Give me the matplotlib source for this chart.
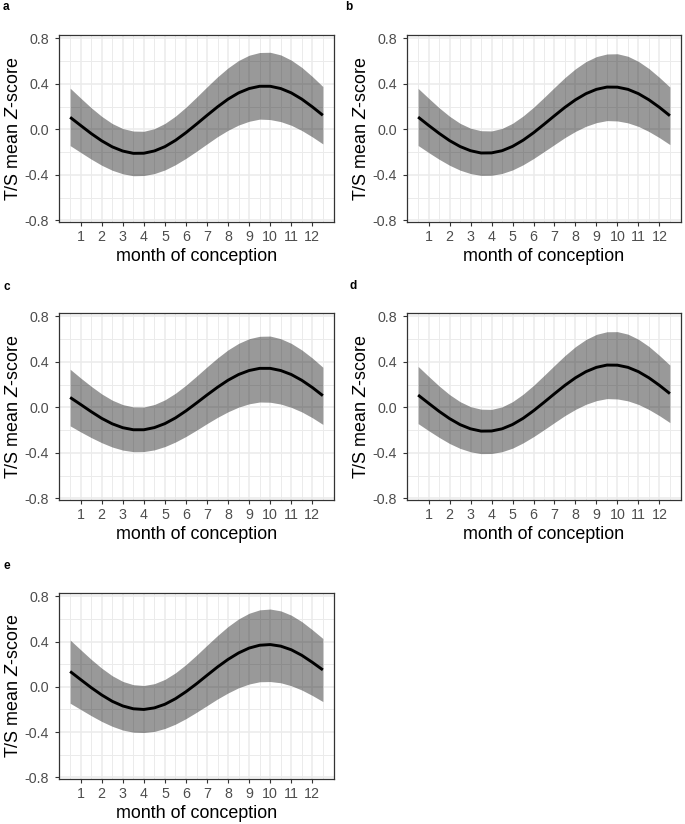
import matplotlib
matplotlib.use("Agg")
import matplotlib.pyplot as plt


MONTHS = [0.5, 1.0, 1.5, 2.0, 2.5, 3.0, 3.5, 4.0, 4.5, 5.0, 5.5, 6.0, 6.5,
          7.0, 7.5, 8.0, 8.5, 9.0, 9.5, 10.0, 10.5, 11.0, 11.5, 12.0, 12.5]

# fitted T/S mean Z-score and its confidence band
A_FIT = [0.106, 0.034, -0.037, -0.101, -0.154, -0.191, -0.211, -0.210, -0.190, -0.152, -0.097, -0.029, 0.046,
         0.123, 0.198, 0.266, 0.321, 0.359, 0.379, 0.379, 0.359, 0.321, 0.266, 0.198, 0.124]
A_UPPER = [0.362, 0.275, 0.190, 0.114, 0.051, 0.007, -0.015, -0.017, 0.006, 0.052, 0.116, 0.195, 0.283,
           0.374, 0.462, 0.541, 0.606, 0.652, 0.676, 0.678, 0.655, 0.609, 0.545, 0.465, 0.377]
A_LOWER = [-0.143, -0.203, -0.262, -0.316, -0.360, -0.391, -0.408, -0.406, -0.389, -0.357, -0.311, -0.255, -0.193,
           -0.128, -0.064, -0.008, 0.038, 0.071, 0.090, 0.086, 0.068, 0.036, -0.010, -0.066, -0.128]

B_FIT = [0.108, 0.035, -0.035, -0.099, -0.151, -0.188, -0.208, -0.207, -0.188, -0.150, -0.096, -0.030, 0.044,
         0.120, 0.194, 0.260, 0.314, 0.352, 0.372, 0.371, 0.352, 0.314, 0.260, 0.194, 0.120]
B_UPPER = [0.360, 0.274, 0.190, 0.115, 0.053, 0.010, -0.012, -0.014, 0.008, 0.053, 0.117, 0.194, 0.280,
           0.369, 0.456, 0.533, 0.596, 0.640, 0.663, 0.665, 0.643, 0.598, 0.535, 0.457, 0.372]
B_LOWER = [-0.142, -0.204, -0.263, -0.316, -0.359, -0.389, -0.405, -0.404, -0.388, -0.357, -0.312, -0.257, -0.196,
           -0.134, -0.072, -0.018, 0.027, 0.059, 0.077, 0.074, 0.057, 0.026, -0.019, -0.073, -0.134]

C_FIT = [0.087, 0.025, -0.038, -0.097, -0.145, -0.179, -0.197, -0.197, -0.178, -0.143, -0.093, -0.031, 0.038,
         0.109, 0.177, 0.239, 0.289, 0.324, 0.343, 0.343, 0.324, 0.289, 0.238, 0.175, 0.103]
C_UPPER = [0.335, 0.258, 0.185, 0.118, 0.063, 0.024, 0.004, 0.003, 0.025, 0.066, 0.124, 0.195, 0.274,
           0.356, 0.435, 0.506, 0.563, 0.604, 0.625, 0.627, 0.604, 0.563, 0.505, 0.434, 0.353]
C_LOWER = [-0.163, -0.216, -0.266, -0.311, -0.349, -0.376, -0.390, -0.389, -0.374, -0.345, -0.305, -0.256, -0.201,
           -0.143, -0.088, -0.039, 0.002, 0.031, 0.047, 0.045, 0.029, 0.000, -0.040, -0.091, -0.150]

D_FIT = [0.108, 0.036, -0.035, -0.099, -0.152, -0.189, -0.209, -0.208, -0.189, -0.151, -0.097, -0.030, 0.044,
         0.120, 0.194, 0.260, 0.314, 0.352, 0.372, 0.371, 0.352, 0.314, 0.260, 0.194, 0.121]
D_UPPER = [0.360, 0.273, 0.188, 0.112, 0.050, 0.006, -0.016, -0.018, 0.004, 0.050, 0.115, 0.193, 0.280,
           0.369, 0.456, 0.534, 0.597, 0.642, 0.665, 0.666, 0.644, 0.599, 0.536, 0.457, 0.372]
D_LOWER = [-0.143, -0.205, -0.264, -0.318, -0.361, -0.391, -0.407, -0.406, -0.390, -0.359, -0.313, -0.258, -0.197,
           -0.134, -0.072, -0.018, 0.027, 0.059, 0.077, 0.074, 0.057, 0.026, -0.019, -0.073, -0.134]

E_FIT = [0.136, 0.064, -0.007, -0.072, -0.128, -0.169, -0.194, -0.200, -0.186, -0.154, -0.105, -0.043, 0.027,
         0.102, 0.176, 0.243, 0.300, 0.343, 0.368, 0.374, 0.360, 0.328, 0.279, 0.217, 0.150]
E_UPPER = [0.414, 0.328, 0.243, 0.165, 0.098, 0.048, 0.019, 0.012, 0.028, 0.066, 0.124, 0.197, 0.280,
           0.368, 0.454, 0.534, 0.601, 0.651, 0.681, 0.688, 0.672, 0.634, 0.577, 0.505, 0.428]
E_LOWER = [-0.145, -0.200, -0.255, -0.306, -0.349, -0.382, -0.401, -0.404, -0.394, -0.368, -0.330, -0.281, -0.225,
           -0.166, -0.107, -0.054, -0.008, 0.025, 0.045, 0.047, 0.036, 0.010, -0.028, -0.076, -0.130]

PANEL_LABELS = ["a", "b", "c", "d", "e"]
X_TICKS = [1, 2, 3, 4, 5, 6, 7, 8, 9, 10, 11, 12]
Y_TICKS = [-0.8, -0.4, 0.0, 0.4, 0.8]
Y_TICK_LABELS = ["-0.8", "-0.4", "0.0", "0.4", "0.8"]
X_TITLE = "month of conception"
Y_TITLE = r"T/S mean $\mathit{Z}$-score"

W, H = 685, 824
# axes boxes in pixels: left, top, right, bottom
BOXES = [
    (59, 35, 334, 222),
    (407, 35, 681, 222),
    (59, 313, 334, 500),
    (407, 313, 681, 500),
    (59, 593, 334, 779),
]
LABEL_POS = [(3, 10), (345, 10), (3, 290), (349, 289), (3, 569)]


def main():
    plt.rcParams["font.family"] = ["Liberation Sans", "DejaVu Sans"]
    plt.rcParams["mathtext.fontset"] = "custom"
    plt.rcParams["mathtext.rm"] = "Liberation Sans"
    plt.rcParams["mathtext.it"] = "Liberation Sans:italic"

    panels = [
        (A_FIT, A_LOWER, A_UPPER),
        (B_FIT, B_LOWER, B_UPPER),
        (C_FIT, C_LOWER, C_UPPER),
        (D_FIT, D_LOWER, D_UPPER),
        (E_FIT, E_LOWER, E_UPPER),
    ]

    fig = plt.figure(figsize=(W / 100, H / 100), dpi=100)

    minor_x = [m + 0.5 for m in range(0, 13)]
    minor_y = [-0.6, -0.2, 0.2, 0.6]

    for (fit, lower, upper), box, label, lpos in zip(panels, BOXES, PANEL_LABELS, LABEL_POS):
        left, top, right, bottom = box
        ax = fig.add_axes([left / W, 1 - bottom / H, (right - left) / W, (bottom - top) / H])

        ax.fill_between(MONTHS, lower, upper, color="black", alpha=0.4, linewidth=0, zorder=2)
        ax.plot(MONTHS, fit, color="black", linewidth=2.1, zorder=3, solid_capstyle="butt")

        ax.set_xlim(-0.03, 13.03)
        ax.set_ylim(-0.815, 0.83)
        ax.set_xticks(X_TICKS)
        ax.set_xticks(minor_x, minor=True)
        ax.set_yticks(Y_TICKS)
        ax.set_yticklabels(Y_TICK_LABELS)
        ax.set_yticks(minor_y, minor=True)

        ax.grid(which="major", color="#EBEBEB", linewidth=1.1, zorder=0)
        ax.grid(which="minor", color="#EBEBEB", linewidth=0.7, zorder=0)
        ax.set_axisbelow(True)

        for spine in ax.spines.values():
            spine.set_color("#333333")
            spine.set_linewidth(0.9)

        ax.tick_params(which="major", length=3.2, width=0.8, color="#333333",
                       labelcolor="#4D4D4D", labelsize=10.3)
        ax.tick_params(axis="x", which="major", pad=2.8)
        ax.tick_params(axis="y", which="major", pad=4.2)
        ax.tick_params(which="minor", length=0)

        ax.set_xlabel(X_TITLE, fontsize=12.9, labelpad=2.5)
        ax.set_ylabel(Y_TITLE, fontsize=12.9, labelpad=1.5)

        fig.text(lpos[0] / W, 1 - lpos[1] / H, label, fontsize=8.5, fontweight="bold",
                 ha="left", va="baseline")

    fig.savefig("out.png", dpi=100)


if __name__ == "__main__":
    main()
